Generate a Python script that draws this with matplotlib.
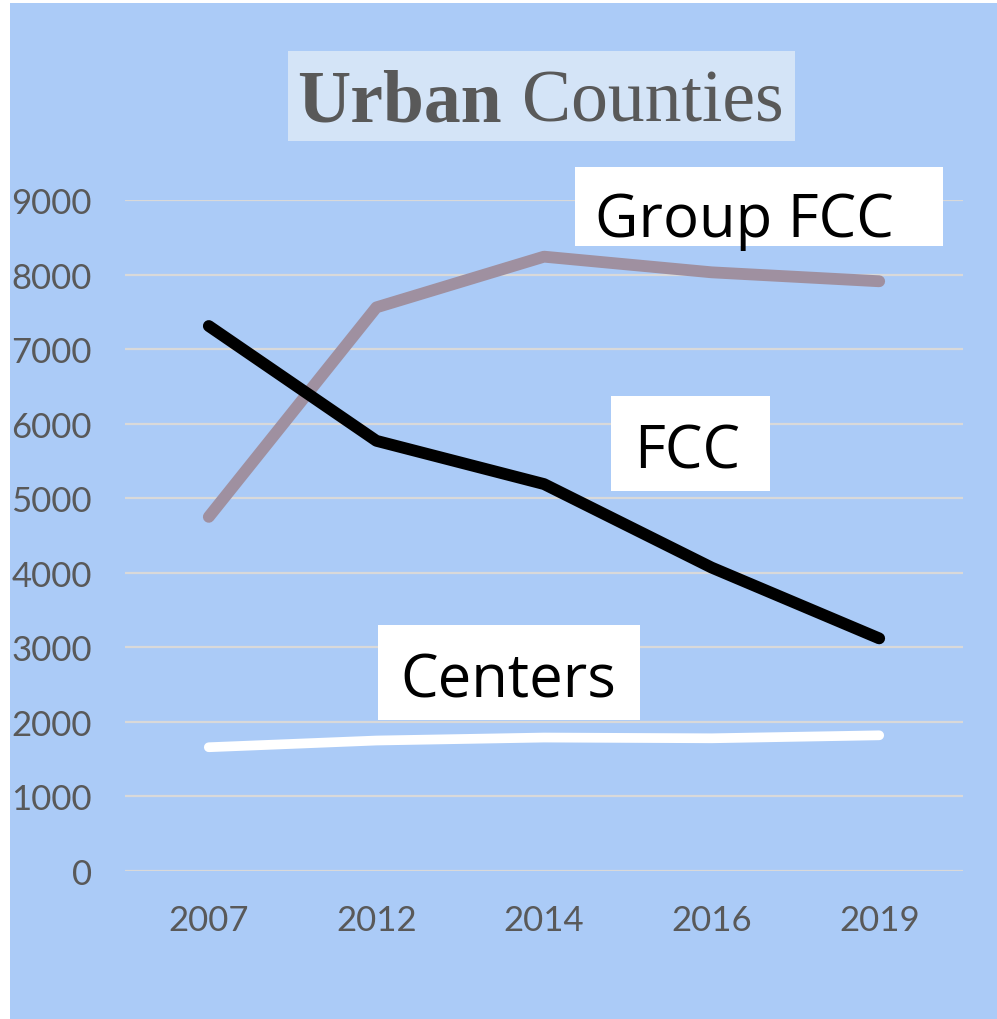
import numpy as np
import matplotlib.pyplot as plt
from matplotlib.patches import Rectangle

# data
years = ['2007', '2012', '2014', '2016', '2019']
group_fcc = [4750, 7560, 8240, 8030, 7910]
fcc = [7310, 5770, 5190, 4070, 3120]
centers = [1660, 1750, 1790, 1780, 1820]

BLUE = '#ABCBF7'
GREY_TXT = '#595959'
W, H = 997, 1020


def fx(px):
    return px / W


def fy(py):
    return 1 - py / H


fig = plt.figure(figsize=(W / 100, H / 100), dpi=100, facecolor='white')
# blue panel (white strip on left/top like the reference)
fig.patches.append(Rectangle((fx(10), 0), 1 - fx(10), fy(4), transform=fig.transFigure,
                             facecolor=BLUE, edgecolor='none', zorder=-10))

ax = fig.add_axes([fx(125), fy(872), fx(963) - fx(125), fy(201) - fy(872)])
ax.set_facecolor('none')
x = np.arange(len(years))

ax.plot(x, group_fcc, color='#9F90A0', lw=8.5, solid_capstyle='round', solid_joinstyle='round', zorder=3)
ax.plot(x, fcc, color='black', lw=8.5, solid_capstyle='round', solid_joinstyle='round', zorder=4)
ax.plot(x, centers, color='white', lw=7, solid_capstyle='round', solid_joinstyle='round', zorder=3)

ax.set_xlim(-0.5, len(years) - 0.5)
ax.set_ylim(0, 9000)
ax.set_yticks(np.arange(0, 9001, 1000))
ax.set_xticks(x)
ax.set_xticklabels(years)
ax.grid(axis='y', color='#D9D9D9', lw=1.6, zorder=1)
ax.set_axisbelow(True)
for s in ax.spines.values():
    s.set_visible(False)
tick_font = ['Liberation Sans Narrow', 'Lato', 'DejaVu Sans']
ax.tick_params(axis='both', length=0, colors=GREY_TXT, labelsize=25)
ax.tick_params(axis='y', pad=24)
ax.tick_params(axis='x', pad=24)
for lab in ax.get_xticklabels() + ax.get_yticklabels():
    lab.set_family(tick_font)

# title box
fig.patches.append(Rectangle((fx(288), fy(142)), fx(795) - fx(288), fy(52) - fy(142),
                             transform=fig.transFigure, facecolor='#D4E4F7',
                             edgecolor='none', zorder=1))
fig.text(fx(502), fy(122), 'Urban', ha='right', va='baseline', fontsize=53,
         fontweight='bold', family='Liberation Serif', color=GREY_TXT, zorder=2)
fig.text(fx(522), fy(122), 'Counties', ha='left', va='baseline', fontsize=53,
         family='Liberation Serif', color=GREY_TXT, zorder=2)

# series labels in white boxes
labels = [
    ('Group FCC', (575, 168, 943, 247), 744, 237),
    ('FCC', (611, 397, 770, 492), 687, 469),
    ('Centers', (378, 626, 640, 721), 508, 697),
]
for txt, (x0, y0, x1, y1), cx, base in labels:
    fig.patches.append(Rectangle((fx(x0), fy(y1)), fx(x1) - fx(x0), fy(y0) - fy(y1),
                                 transform=fig.transFigure, facecolor='white',
                                 edgecolor='none', zorder=5))
    fig.text(fx(cx), fy(base), txt, ha='center', va='baseline', fontsize=43,
             family='Open Sans', color='black', zorder=6)

fig.savefig('out.png', dpi=100, facecolor='white')
